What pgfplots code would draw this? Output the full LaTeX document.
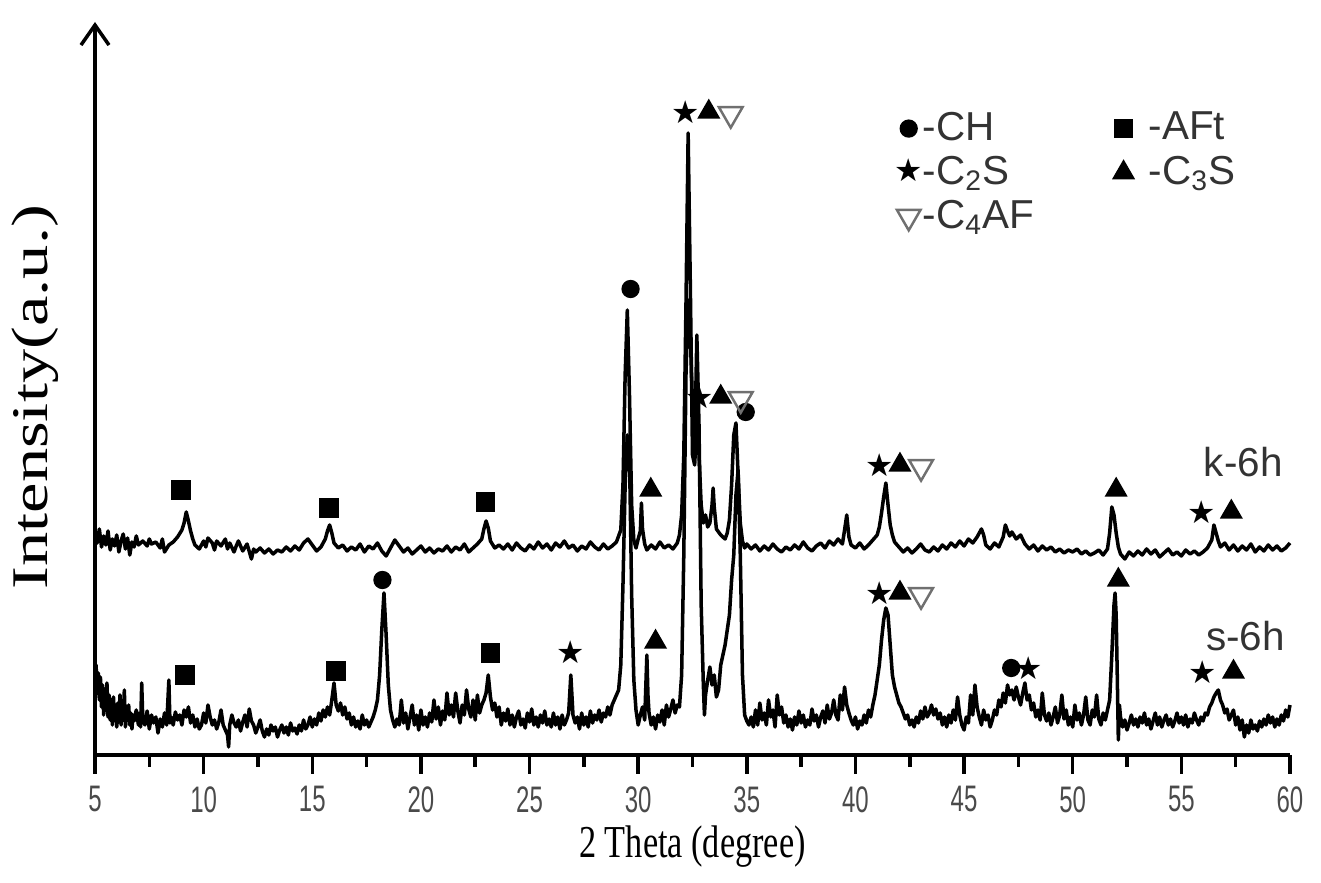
\documentclass[border=0pt]{standalone}
\usepackage{pgfplots}
\pgfplotsset{compat=1.18}
\usepackage{graphicx}
\usepackage{fontspec}
\setmainfont{Liberation Serif}
\newfontfamily\arialf{Liberation Sans}
\newfontfamily\dejavu{DejaVu Sans}
\usetikzlibrary{arrows.meta}
\definecolor{tickgray}{HTML}{4A4A4A}
\definecolor{leggray}{HTML}{333333}
\definecolor{nablagray}{HTML}{707070}
\begin{document}
\begin{tikzpicture}
\useasboundingbox (-0.95cm,-1.28cm) rectangle (12.26cm,7.55cm);
\begin{axis}[
  at={(0,0)}, anchor=south west,
  scale only axis, width=11.95cm, height=7.33cm,
  xmin=5, xmax=60, ymin=0, ymax=733,
  clip=false,
  axis x line=bottom, axis y line=left,
  x axis line style={-, line width=1pt},
  y axis line style={-{Straight Barb[length=2mm,width=2.8mm,line width=1pt]}, line width=1pt},
  xtick={5,10,...,60}, minor x tick num=1, ytick=\empty,
  tick align=outside, xtick pos=bottom,
  major tick length=0.19cm, minor tick length=0.12cm,
  every tick/.style={black, line width=1pt},
  xticklabel={\scalebox{0.65}[1]{\pgfmathprintnumber[assume math mode=true]{\tick}}},
  xticklabel style={font=\arialf\fontsize{10.5}{10.5}\selectfont, text=tickgray},
  xlabel={\scalebox{0.75}[1]{2 Theta (degree)}},
  xlabel style={at={(axis description cs:0.5,-0.125)}, anchor=center, font=\fontsize{13}{14}\selectfont},
  ylabel={\scalebox{1}[0.75]{Intensity(a.u.)}},
  ylabel style={at={(axis description cs:-0.05,0.488)}, anchor=center, font=\fontsize{19.5}{20}\selectfont},
  legend columns=2,
  legend cell align=left,
  legend image code/.code={%
    \pgfinterruptboundingbox\draw[#1] plot coordinates {(0.1cm,0cm)};\endpgfinterruptboundingbox
    \path[draw=none,fill=none] (0cm,-0.1cm) rectangle (0.17cm,0.1cm);},
  legend style={at={(axis description cs:0.672,0.888)}, anchor=north west, draw=none, fill=none,
    inner sep=0pt,
    font=\arialf\fontsize{11.5}{12}\selectfont, text=leggray, row sep=-1pt,
    /tikz/every even column/.append style={column sep=0.72cm}},
]
% k-6h trace
\addplot[black, line width=1pt, line join=round, forget plot] coordinates {
(5.0,222)(5.1,212)(5.2,226)(5.3,208)(5.4,219)(5.5,210)(5.6,224)(5.7,205)(5.8,216)(5.9,209)
(6.0,220)(6.1,203)(6.2,214)(6.3,221)(6.4,206)(6.5,217)(6.6,200)(6.7,213)(6.8,208)(6.9,219)
(7.0,210)(7.2,214)(7.4,209)(7.5,216)(7.6,211)(7.8,213)(8.0,207)(8.1,216)(8.2,203)(8.4,210)
(8.6,213)(8.8,218)(9.0,225)(9.1,232)(9.2,243)(9.3,234)(9.4,224)(9.5,216)(9.6,210)(9.8,206)
(10.0,214)(10.1,208)(10.2,217)(10.4,212)(10.5,205)(10.6,214)(10.8,209)(11.0,216)(11.1,206)
(11.2,212)(11.4,203)(11.5,209)(11.6,214)(11.8,204)(12.0,211)(12.2,196)(12.3,206)(12.4,203)
(12.6,207)(12.8,202)(13.0,206)(13.2,201)(13.4,205)(13.6,203)(13.8,208)(14.0,204)(14.2,209)
(14.4,205)(14.6,212)(14.8,216)(15.0,210)(15.2,204)(15.4,208)(15.6,216)(15.7,224)(15.8,230)
(15.9,222)(16.0,212)(16.2,207)(16.4,210)(16.6,204)(16.8,208)(17.0,205)(17.2,211)(17.4,203)
(17.6,209)(17.8,206)(18.0,212)(18.2,204)(18.4,199)(18.6,207)(18.8,215)(19.0,209)(19.2,203)
(19.4,207)(19.6,201)(19.8,205)(20.0,209)(20.2,203)(20.4,207)(20.6,202)(20.8,206)(21.0,204)
(21.2,209)(21.4,203)(21.6,208)(21.8,205)(22.0,211)(22.2,203)(22.4,207)(22.6,211)(22.8,216)
(22.9,226)(23.0,234)(23.1,227)(23.2,214)(23.4,207)(23.6,210)(23.8,206)(24.0,211)(24.2,205)
(24.4,212)(24.6,207)(24.8,204)(25.0,210)(25.2,206)(25.4,213)(25.6,207)(25.8,211)(26.0,205)
(26.2,212)(26.4,208)(26.6,214)(26.8,207)(27.0,210)(27.2,204)(27.4,209)(27.6,206)(27.8,213)
(28.0,208)(28.2,205)(28.4,211)(28.6,206)(28.8,209)(29.0,213)(29.2,225)(29.3,270)(29.4,380)
(29.5,445)(29.6,360)(29.7,250)(29.8,215)(29.9,207)(30.0,216)(30.1,224)(30.15,252)(30.2,226)
(30.3,211)(30.4,205)(30.6,210)(30.8,206)(31.0,213)(31.2,207)(31.4,210)(31.6,206)(31.8,212)
(31.9,220)(32.0,240)(32.1,300)(32.2,450)(32.3,622)(32.4,470)(32.5,300)(32.6,290)(32.7,335)
(32.8,300)(32.9,250)(33.0,232)(33.1,240)(33.2,228)(33.3,232)(33.4,250)(33.45,267)(33.5,248)
(33.6,226)(33.8,220)(34.0,216)(34.1,222)(34.2,235)(34.3,270)(34.4,320)(34.5,332)(34.6,280)
(34.7,232)(34.8,214)(34.9,207)(35.0,211)(35.2,206)(35.4,210)(35.6,204)(35.8,209)(36.0,205)
(36.2,211)(36.4,206)(36.6,203)(36.8,208)(37.0,205)(37.2,210)(37.4,206)(37.6,213)(37.8,207)
(38.0,204)(38.2,209)(38.4,212)(38.6,207)(38.8,214)(39.0,210)(39.2,216)(39.4,211)(39.5,225)
(39.6,240)(39.7,218)(39.8,210)(40.0,207)(40.2,212)(40.4,206)(40.6,210)(40.8,215)(41.0,220)
(41.1,228)(41.2,242)(41.3,258)(41.4,272)(41.5,250)(41.6,230)(41.7,220)(41.8,213)(42.0,208)
(42.2,203)(42.4,207)(42.6,202)(42.8,206)(43.0,211)(43.2,205)(43.4,203)(43.6,208)(43.8,204)
(44.0,210)(44.2,206)(44.4,212)(44.6,208)(44.8,214)(45.0,209)(45.2,216)(45.4,212)(45.6,218)
(45.8,226)(45.9,220)(46.0,210)(46.2,206)(46.4,212)(46.6,208)(46.8,218)(46.9,230)(47.0,224)
(47.1,219)(47.2,223)(47.4,216)(47.6,220)(47.8,211)(48.0,206)(48.2,210)(48.4,204)(48.6,209)
(48.8,205)(49.0,208)(49.2,203)(49.4,206)(49.6,202)(49.8,205)(50.0,203)(50.2,206)(50.4,201)
(50.6,204)(50.8,200)(51.0,202)(51.2,205)(51.4,200)(51.6,206)(51.7,222)(51.8,248)(51.9,240)
(52.0,222)(52.1,208)(52.2,201)(52.4,196)(52.6,203)(52.8,199)(53.0,204)(53.2,200)(53.4,206)
(53.6,201)(53.8,205)(54.0,198)(54.2,202)(54.4,206)(54.6,200)(54.8,203)(55.0,199)(55.2,205)
(55.4,201)(55.6,204)(55.8,200)(56.0,203)(56.2,207)(56.4,215)(56.5,230)(56.6,222)(56.7,214)
(56.8,208)(57.0,212)(57.2,205)(57.4,210)(57.6,204)(57.8,209)(58.0,205)(58.2,211)(58.4,203)
(58.6,208)(58.8,204)(59.0,210)(59.2,205)(59.4,209)(59.6,204)(59.8,207)(60.0,212)
};
% s-6h trace
\addplot[black, line width=1pt, line join=round, forget plot] coordinates {
(5.0,75)(5.05,90)(5.1,62)(5.15,82)(5.2,55)(5.25,78)(5.3,48)(5.35,70)(5.4,40)(5.45,66)
(5.5,45)(5.55,72)(5.6,38)(5.65,60)(5.7,35)(5.75,55)(5.8,30)(5.85,58)(5.9,36)(5.95,50)
(6.0,28)(6.05,52)(6.1,33)(6.15,60)(6.2,30)(6.25,48)(6.3,35)(6.35,65)(6.4,28)(6.45,45)
(6.5,38)(6.55,50)(6.6,30)(6.65,42)(6.7,26)(6.75,40)(6.8,34)(6.9,45)(7.0,30)(7.05,42)
(7.1,28)(7.15,72)(7.2,35)(7.3,30)(7.4,44)(7.5,26)(7.6,40)(7.7,32)(7.8,38)(7.9,22)
(8.0,36)(8.1,28)(8.2,42)(8.3,30)(8.4,75)(8.45,32)(8.5,38)(8.6,30)(8.7,43)(8.8,35)
(8.9,40)(9.0,30)(9.1,45)(9.2,38)(9.3,48)(9.4,32)(9.5,40)(9.6,28)(9.7,36)(9.8,26)
(9.9,30)(10.0,42)(10.1,32)(10.2,50)(10.3,38)(10.4,30)(10.5,35)(10.6,26)(10.7,33)(10.8,45)
(10.9,30)(11.0,25)(11.1,20)(11.15,8)(11.2,30)(11.3,40)(11.4,32)(11.5,28)(11.6,35)(11.7,24)
(11.8,33)(11.9,40)(12.0,28)(12.1,46)(12.2,34)(12.3,30)(12.4,22)(12.5,28)(12.6,35)(12.7,24)
(12.8,18)(12.9,26)(13.0,20)(13.1,30)(13.2,24)(13.3,28)(13.4,18)(13.5,25)(13.6,30)(13.7,22)
(13.8,28)(13.9,20)(14.0,32)(14.1,24)(14.2,27)(14.3,21)(14.4,30)(14.5,24)(14.6,35)(14.7,26)
(14.8,30)(14.9,38)(15.0,28)(15.1,36)(15.2,30)(15.3,42)(15.4,34)(15.5,45)(15.6,38)(15.7,48)
(15.8,40)(15.9,55)(16.0,72)(16.1,50)(16.2,44)(16.3,52)(16.4,40)(16.5,48)(16.6,36)(16.7,42)
(16.8,30)(16.9,38)(17.0,28)(17.1,34)(17.2,26)(17.3,40)(17.4,30)(17.5,35)(17.6,28)(17.7,33)
(17.8,38)(17.9,45)(18.0,55)(18.1,80)(18.2,125)(18.3,162)(18.4,120)(18.5,70)(18.6,45)(18.7,35)
(18.8,28)(18.9,36)(19.0,30)(19.1,55)(19.2,32)(19.3,42)(19.4,26)(19.5,38)(19.6,50)(19.7,30)
(19.8,40)(19.9,25)(20.0,45)(20.1,30)(20.2,38)(20.3,28)(20.4,42)(20.5,33)(20.6,55)(20.7,36)
(20.8,48)(20.9,30)(21.0,44)(21.1,35)(21.2,62)(21.3,40)(21.4,50)(21.5,38)(21.6,62)(21.7,44)
(21.8,32)(21.9,50)(22.0,40)(22.1,65)(22.2,46)(22.3,38)(22.4,55)(22.5,35)(22.6,60)(22.7,42)
(22.8,50)(22.9,55)(23.0,62)(23.1,80)(23.2,58)(23.3,45)(23.4,52)(23.5,38)(23.6,48)(23.7,30)
(23.8,42)(23.9,34)(24.0,46)(24.1,30)(24.2,40)(24.3,28)(24.4,38)(24.5,44)(24.6,30)(24.7,36)
(24.8,27)(24.9,42)(25.0,33)(25.1,46)(25.2,30)(25.3,38)(25.4,28)(25.5,40)(25.6,32)(25.7,44)
(25.8,30)(25.9,36)(26.0,28)(26.1,42)(26.2,30)(26.3,38)(26.4,26)(26.5,40)(26.6,30)(26.7,35)
(26.8,42)(26.9,80)(27.0,40)(27.1,32)(27.2,38)(27.3,26)(27.4,42)(27.5,30)(27.6,38)(27.7,28)
(27.8,44)(27.9,32)(28.0,40)(28.1,35)(28.2,45)(28.3,33)(28.4,42)(28.5,38)(28.6,48)(28.7,40)
(28.8,50)(28.9,55)(29.0,60)(29.1,65)(29.2,90)(29.3,170)(29.4,270)(29.5,320)(29.6,300)(29.7,160)
(29.8,75)(29.9,45)(30.0,30)(30.1,40)(30.2,48)(30.3,35)(30.4,100)(30.45,60)(30.5,42)(30.6,30)
(30.7,38)(30.8,26)(30.9,40)(31.0,33)(31.1,45)(31.2,30)(31.3,50)(31.4,38)(31.5,46)(31.6,55)
(31.7,42)(31.8,50)(31.9,48)(32.0,80)(32.1,200)(32.2,380)(32.3,455)(32.4,420)(32.5,350)(32.6,300)
(32.7,420)(32.8,330)(32.9,150)(33.0,70)(33.05,40)(33.1,60)(33.2,75)(33.3,88)(33.4,70)(33.5,80)
(33.6,58)(33.7,65)(33.8,90)(33.9,100)(34.0,110)(34.1,125)(34.2,140)(34.3,175)(34.4,200)(34.5,260)
(34.6,285)(34.7,200)(34.8,80)(34.9,40)(35.0,34)(35.1,30)(35.2,38)(35.3,28)(35.4,45)(35.5,30)
(35.6,52)(35.7,35)(35.8,42)(35.9,30)(36.0,55)(36.1,38)(36.2,45)(36.3,28)(36.4,60)(36.5,40)
(36.6,48)(36.7,32)(36.8,40)(36.9,28)(37.0,36)(37.1,25)(37.2,38)(37.3,30)(37.4,44)(37.5,32)
(37.6,40)(37.7,28)(37.8,35)(37.9,30)(38.0,46)(38.1,34)(38.2,40)(38.3,28)(38.4,38)(38.5,44)
(38.6,32)(38.7,50)(38.8,36)(38.9,42)(39.0,55)(39.1,40)(39.2,35)(39.3,60)(39.4,45)(39.5,68)
(39.6,50)(39.7,42)(39.8,35)(39.9,30)(40.0,38)(40.1,26)(40.2,34)(40.3,30)(40.4,40)(40.5,32)
(40.6,45)(40.7,38)(40.8,50)(40.9,60)(41.0,75)(41.1,90)(41.2,115)(41.3,135)(41.4,147)(41.5,140)
(41.6,110)(41.7,80)(41.8,68)(41.9,60)(42.0,52)(42.1,48)(42.2,42)(42.3,36)(42.4,40)(42.5,30)
(42.6,35)(42.7,28)(42.8,38)(42.9,32)(43.0,44)(43.1,36)(43.2,48)(43.3,38)(43.4,42)(43.5,50)
(43.6,40)(43.7,46)(43.8,36)(43.9,42)(44.0,30)(44.1,38)(44.2,28)(44.3,40)(44.4,32)(44.5,45)
(44.6,35)(44.7,58)(44.8,40)(44.9,30)(45.0,25)(45.1,38)(45.2,32)(45.3,60)(45.4,40)(45.5,70)
(45.6,48)(45.7,38)(45.8,30)(45.9,45)(46.0,35)(46.1,40)(46.2,28)(46.3,35)(46.4,45)(46.5,40)
(46.6,55)(46.7,48)(46.8,62)(46.9,52)(47.0,70)(47.1,60)(47.2,65)(47.3,55)(47.4,68)(47.5,58)
(47.6,50)(47.7,62)(47.8,72)(47.9,55)(48.0,60)(48.1,45)(48.2,52)(48.3,38)(48.4,45)(48.5,35)
(48.6,62)(48.7,40)(48.8,34)(48.9,42)(49.0,30)(49.1,38)(49.2,48)(49.3,32)(49.4,40)(49.5,60)
(49.6,36)(49.7,45)(49.8,30)(49.9,38)(50.0,28)(50.1,50)(50.2,35)(50.3,42)(50.4,30)(50.5,40)
(50.6,58)(50.7,35)(50.8,30)(50.9,45)(51.0,38)(51.1,60)(51.2,36)(51.3,30)(51.4,42)(51.5,35)
(51.6,45)(51.7,55)(51.8,100)(51.9,150)(51.95,162)(52.0,140)(52.05,80)(52.1,15)(52.15,50)(52.2,38)
(52.3,28)(52.4,35)(52.5,25)(52.6,32)(52.7,40)(52.8,30)(52.9,36)(53.0,28)(53.1,38)(53.2,32)
(53.3,42)(53.4,30)(53.5,36)(53.6,26)(53.7,34)(53.8,42)(53.9,30)(54.0,38)(54.1,28)(54.2,35)
(54.3,40)(54.4,30)(54.5,36)(54.6,28)(54.7,34)(54.8,42)(54.9,32)(55.0,38)(55.1,30)(55.2,40)
(55.3,28)(55.4,36)(55.5,32)(55.6,42)(55.7,35)(55.8,30)(55.9,38)(56.0,34)(56.1,42)(56.2,40)
(56.3,48)(56.4,52)(56.5,58)(56.6,62)(56.7,65)(56.8,55)(56.9,50)(57.0,42)(57.1,46)(57.2,35)
(57.3,40)(57.4,45)(57.5,30)(57.6,38)(57.7,25)(57.8,35)(57.9,18)(58.0,30)(58.1,22)(58.2,35)
(58.3,26)(58.4,30)(58.5,24)(58.6,34)(58.7,28)(58.8,36)(58.9,30)(59.0,40)(59.1,32)(59.2,38)
(59.3,28)(59.4,36)(59.5,30)(59.6,40)(59.7,34)(59.8,45)(59.9,38)(60.0,50)
};
% peak markers: CH (circle)
\addplot[only marks, mark=*, mark size=2.4pt, black, forget plot] coordinates {
(29.65,466)(34.95,343)(18.23,175)(47.17,87)};
% AFt (square)
\addplot[only marks, mark=square*, mark size=2.6pt, black, forget plot] coordinates {
(8.96,265)(15.78,247)(22.97,253)(9.15,80)(16.1,84)(23.2,102)};
% C3S (triangle)
\addplot[only marks, mark=triangle*, mark size=3.4pt, black, forget plot] coordinates {
(33.25,643)(30.58,265)(33.80,358)(42.05,290)(52.0,265)(57.3,243)
(30.8,113)(42.05,162)(52.1,175)(57.4,83)};
% C4AF (open down triangle)
\addplot[only marks, mark=triangle, mark size=3.9pt, nablagray, mark options={rotate=180, line width=0.7pt}, forget plot] coordinates {
(34.26,641)(34.72,356)(43.02,288)(43.02,160)};
% C2S (star)
\addplot[only marks, mark=text, text mark={\dejavu\fontsize{9}{9}\selectfont ★}, text mark as node=true, black, forget plot] coordinates {
(32.19,643)(32.83,358)(41.13,290)(55.92,243)
(26.9,103)(41.13,162)(47.95,87)(56.0,83)};
% legend
\addlegendimage{only marks, mark=*, mark size=2.4pt, black}
\addlegendentry{-CH}
\addlegendimage{only marks, mark=square*, mark size=2.6pt, black}
\addlegendentry{\ -AFt}
\addlegendimage{legend image code/.code={%
    \pgfinterruptboundingbox\node[inner sep=0pt, text=black, font=\dejavu\fontsize{9}{9}\selectfont] at (-0.045cm,0cm) {★};\endpgfinterruptboundingbox
    \path[draw=none,fill=none] (0cm,-0.1cm) rectangle (0.17cm,0.1cm);}}
\addlegendentry{-C\textsubscript{2}S}
\addlegendimage{only marks, mark=triangle*, mark size=3.4pt, black}
\addlegendentry{\ -C\textsubscript{3}S}
\addlegendimage{only marks, mark=triangle, mark size=3.9pt, nablagray, mark options={rotate=180, line width=0.7pt}}
\addlegendentry{-C\textsubscript{4}AF}
% sample labels
\node[font=\arialf\fontsize{11.5}{12}\selectfont, text=leggray] at (axis cs:57.85,293) {k-6h};
\node[font=\arialf\fontsize{11.5}{12}\selectfont, text=leggray] at (axis cs:57.95,119) {s-6h};
\end{axis}
\end{tikzpicture}
\end{document}
